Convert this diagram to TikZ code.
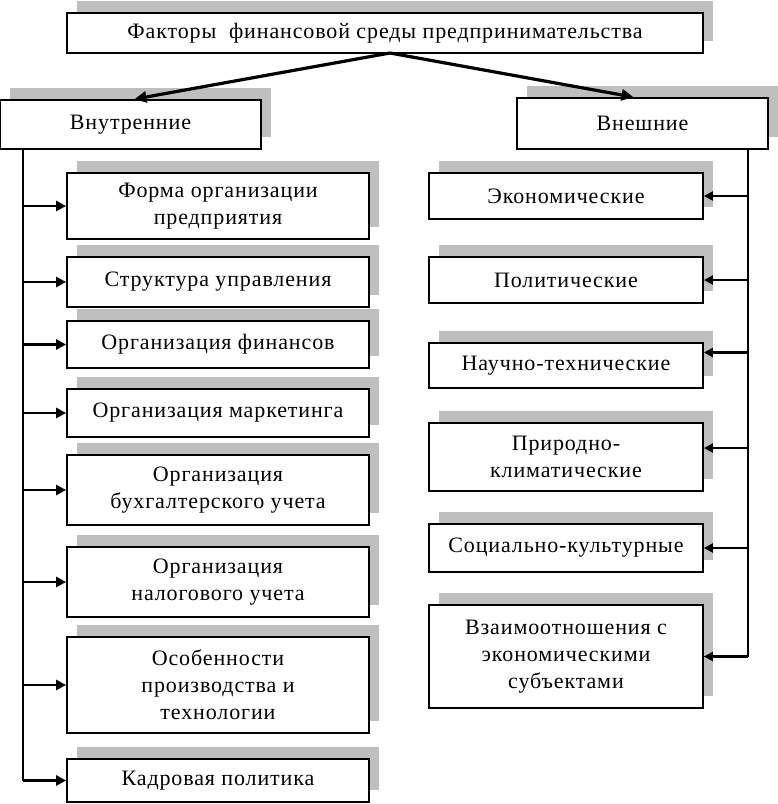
\documentclass[tikz,border=0pt]{standalone}
\usepackage{fontspec}
\setmainfont{Liberation Serif}[LetterSpace=4]
\usetikzlibrary{shadows,arrows.meta}
\begin{document}
\begin{tikzpicture}[x=1pt,y=-1pt,
  box/.style={draw=black,line width=1.8pt,fill=white,inner sep=0pt,align=center,
    font=\fontsize{22}{27}\selectfont,
    drop shadow={shadow xshift=10pt,shadow yshift=12pt,fill=gray!50,opacity=1}},
  lbox/.style={box,minimum width=302pt},
  rbox/.style={box,minimum width=274pt},
  conn/.style={line width=1.8pt},
  arr/.style={line width=2.6pt,-{Triangle[length=10pt,width=10pt]}},
  rarr/.style={line width=2.6pt,-{Triangle[length=9pt,width=9pt]}},
  toparr/.style={line width=3.2pt,-{Triangle[length=12pt,width=11pt]}}]
\useasboundingbox (0,0) rectangle (778,804);
\fill[white] (0,0) rectangle (778,804);
% top
\node[box,minimum width=636pt,minimum height=40pt] (top) at (385,33) {Факторы\ \ финансовой среды предпринимательства};
\node[box,minimum width=261pt,minimum height=49pt] (vnutr) at (130.5,124.5) {Внутренние};
\node[box,minimum width=251pt,minimum height=51pt] (vnesh) at (642.5,123.5) {Внешние};
% left column
\node[lbox,minimum height=66pt] (forma) at (218,206) {Форма организации\\предприятия};
\node[lbox,minimum height=50pt] (strukt) at (218,282) {Структура управления};
\node[lbox,minimum height=47pt] (fin) at (218,344.5) {Организация финансов};
\node[lbox,minimum height=48pt] (mark) at (218,413) {Организация маркетинга};
\node[lbox,minimum height=70pt] (buh) at (218,490) {Организация\\бухгалтерского учета};
\node[lbox,minimum height=70pt] (nal) at (218,582) {Организация\\налогового учета};
\node[lbox,minimum height=96pt] (osob) at (218,685) {Особенности\\производства и\\технологии};
\node[lbox,minimum height=43pt] (kadr) at (218,780.5) {Кадровая политика};
% right column
\node[rbox,minimum height=46pt] (eco) at (566,196) {Экономические};
\node[rbox,minimum height=46pt] (pol) at (566,280) {Политические};
\node[rbox,minimum height=45pt] (nt) at (566,365.5) {Научно-технические};
\node[rbox,minimum height=68pt] (prir) at (566,457) {Природно-\\климатические};
\node[rbox,minimum height=48pt] (soc) at (566,548) {Социально-культурные};
\node[rbox,minimum height=103pt] (vz) at (566,656.5) {Взаимоотношения с\\экономическими\\субъектами};
% top arrows
\coordinate (ts) at (390,53);
\coordinate (vnutrin) at ([xshift=4pt]vnutr.north);
\coordinate (vneshin) at ([xshift=-9pt]vnesh.north);
\draw[toparr] (ts) -- (vnutrin);
\draw[toparr] (ts) -- (vneshin);
% left connectors
\coordinate (lt) at (23,149);
\draw[conn] (lt) |- (kadr.west);
\foreach \n in {forma,strukt,fin,mark,buh,nal,osob,kadr}
  \draw[arr] (lt |- \n.west) -- (\n.west);
% right connectors
\coordinate (rt) at (748,149);
\coordinate (ntin) at ([yshift=13pt]nt.east);
\coordinate (pririn) at ([yshift=9pt]prir.east);
\draw[conn] (rt) |- (vz.east);
\foreach \n in {eco.east,pol.east,ntin,pririn,soc.east,vz.east}
  \draw[rarr] (rt |- \n) -- (\n);
\end{tikzpicture}
\end{document}
